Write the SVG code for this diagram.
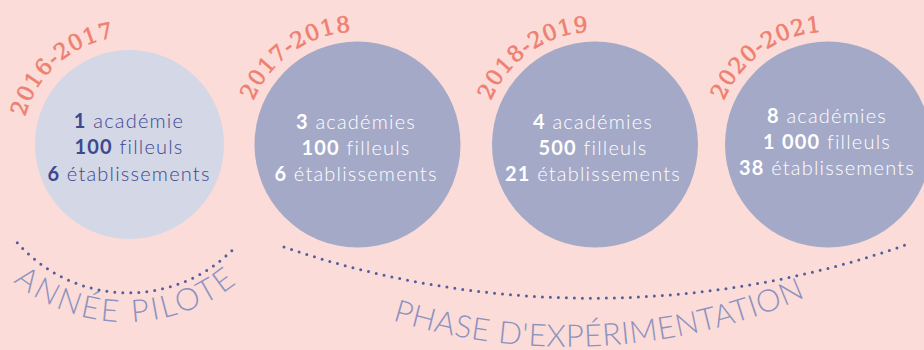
<svg xmlns="http://www.w3.org/2000/svg" width="924" height="350" viewBox="0 0 924 350">
<style>
.bg{fill:#fbdcd8}
.c1{fill:#d3d7e6}
.c2{fill:#a4a9c7}
.year{font-family:"DejaVu Serif","Liberation Serif",serif;font-size:22px;fill:#ef7f6f;stroke:#ef7f6f;stroke-width:0.6px;letter-spacing:0.8px}
.info{font-family:Lato,"Open Sans",sans-serif;font-size:20px;font-weight:300;letter-spacing:1.2px;text-anchor:middle}
.n{font-weight:700}
.dark{fill:#3c4890}
.light{fill:#ffffff}
.dots{fill:none;stroke:#535e9e;stroke-width:3;stroke-linecap:round;stroke-dasharray:0 8}
.phase{font-family:Lato,"Open Sans",sans-serif;font-size:31px;font-weight:300;fill:#8c92c0}
</style>
<defs>
<path id="y1" d="M 21.5 144.5 A 108 108 0 0 1 237.5 144.5"/>
<path id="y2" d="M 244.5 144.5 A 113 113 0 0 1 470.5 144.5"/>
<path id="y3" d="M 482 144.5 A 113 113 0 0 1 708 144.5"/>
<path id="y4" d="M 715 144.5 A 113 113 0 0 1 941 144.5"/>
<path id="p1" d="M -51 145 A 177 177 0 0 0 303 145"/>
<path id="p2" d="M -26 -247 A 594 594 0 0 0 1162 -247"/>
</defs>
<rect class="bg" x="0" y="0" width="924" height="350"/>
<g id="node-2016-2017">
<circle class="c1" cx="129.5" cy="144.5" r="94.5"/>
<text class="year" letter-spacing="0.3"><textPath href="#y1" startOffset="91" text-anchor="middle">2016-2017</textPath></text>
<text class="info dark" x="129" y="128"><tspan class="n">1</tspan> académie</text>
<text class="info dark" x="129" y="154"><tspan class="n">100</tspan> filleuls</text>
<text class="info dark" x="129" y="181"><tspan class="n">6</tspan> établissements</text>
</g>
<g id="node-2017-2018">
<circle class="c2" cx="357.5" cy="144.5" r="103"/>
<text class="year"><textPath href="#y2" startOffset="108" text-anchor="middle">2017-2018</textPath></text>
<text class="info light" x="356" y="129"><tspan class="n">3</tspan> académies</text>
<text class="info light" x="356" y="155"><tspan class="n">100</tspan> filleuls</text>
<text class="info light" x="356" y="181"><tspan class="n">6</tspan> établissements</text>
</g>
<g id="node-2018-2019">
<circle class="c2" cx="595" cy="144.5" r="103"/>
<text class="year"><textPath href="#y3" startOffset="108" text-anchor="middle">2018-2019</textPath></text>
<text class="info light" x="593" y="129"><tspan class="n">4</tspan> académies</text>
<text class="info light" x="593" y="155"><tspan class="n">500</tspan> filleuls</text>
<text class="info light" x="593" y="181"><tspan class="n">21</tspan> établissements</text>
</g>
<g id="node-2020-2021">
<circle class="c2" cx="828" cy="144.5" r="103"/>
<text class="year"><textPath href="#y4" startOffset="108" text-anchor="middle">2020-2021</textPath></text>
<text class="info light" x="827" y="123"><tspan class="n">8</tspan> académies</text>
<text class="info light" x="827" y="149"><tspan class="n">1 000</tspan> filleuls</text>
<text class="info light" x="827" y="175"><tspan class="n">38</tspan> établissements</text>
</g>
<g id="connectors">
<g id="phase-pilote">
<path class="dots" d="M 17.3 242.7 A 148 148 0 0 0 237.3 245"/>
<text class="phase" letter-spacing="2.8"><textPath href="#p1" startOffset="50%" text-anchor="middle">ANNÉE PILOTE</textPath></text>
</g>
<g id="phase-experimentation">
<path class="dots" d="M 284 247 A 951 951 0 0 0 911 243"/>
<text class="phase" letter-spacing="0.5"><textPath href="#p2" startOffset="966" text-anchor="middle">PHASE D'EXPÉRIMENTATION</textPath></text>
</g>
</g>
</svg>
